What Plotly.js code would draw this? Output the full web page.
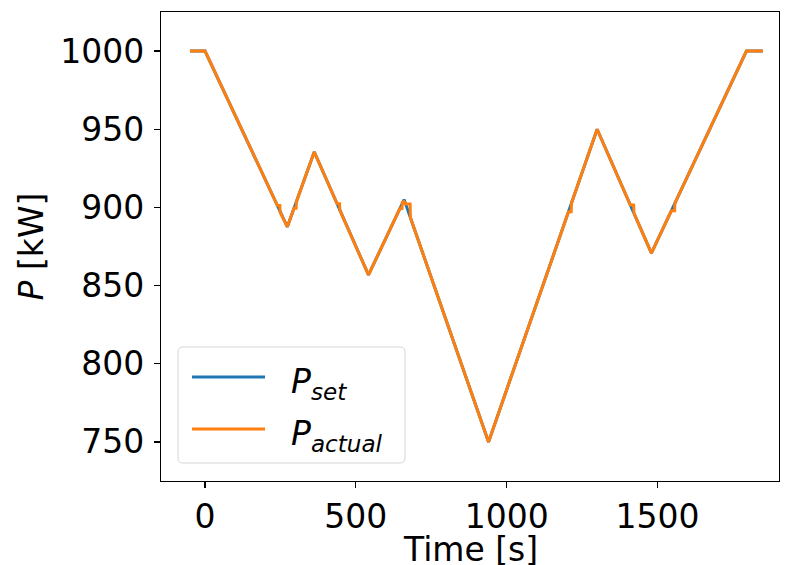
<!DOCTYPE html>
<html>
<head>
<meta charset="utf-8">
<script src="https://cdn.plot.ly/plotly-3.0.1.min.js"></script>
<style>
  html, body { margin: 0; padding: 0; background: #fff; }
  #plot { width: 785px; height: 565px; }
</style>
</head>
<body>
<div id="plot"></div>
<script>
// Power set-point ramp profile (time in s, power in kW)
const setTime  = [-50, 0, 273, 362, 542, 660, 940, 1300, 1480, 1795, 1850];
const setPower = [1000, 1000, 887.6, 935.5, 856.8, 905, 750, 950, 870.7, 1000, 1000];

// Measured power: follows the set-point, with short hold-and-jump lags around 900 kW
const actualTime  = [-50, 0, 240, 248, 249, 273, 295, 302, 303, 362, 438, 446, 447, 542,
                     646, 653, 654, 659, 665, 680, 681, 940, 1205, 1214, 1215, 1300,
                     1410, 1421, 1422, 1480, 1546, 1557, 1558, 1795, 1850];
const actualPower = [1000, 1000, 901.2, 901.2, 896.9, 887.6, 899.4, 899.4, 903.7, 935.5, 902.3, 902.3, 898.1, 856.8,
                     899.3, 899.3, 903.2, 903.8, 902.2, 902.2, 893.4, 750, 897.2, 897.2, 902.8, 950,
                     901.5, 901.5, 896.3, 870.7, 897.8, 897.8, 902.7, 1000, 1000];

const xTicks = [0, 500, 1000, 1500];
const yTicks = [750, 800, 850, 900, 950, 1000];

const xTitle = 'Time [s]';
const yTitle = '<i>P</i> [kW]';
const seriesNames  = ['<i>P</i><sub><i>set</i></sub>', '<i>P</i><sub><i>actual</i></sub>'];
const seriesColors = ['#1f77b4', '#ff7f0e'];

const FONT = 'DejaVu Sans';
const W = 785, H = 565;
const M = { l: 161, r: 6, t: 12, b: 84 };
const plotW = W - M.l - M.r, plotH = H - M.t - M.b;

// pixel position inside the figure -> paper coordinates
const px = v => (v - M.l) / plotW;
const py = v => (H - M.b - v) / plotH;

const traces = [
  { x: setTime, y: setPower, type: 'scatter', mode: 'lines',
    name: seriesNames[0], line: { color: seriesColors[0], width: 3 } },
  { x: actualTime, y: actualPower, type: 'scatter', mode: 'lines',
    name: seriesNames[1], line: { color: seriesColors[1], width: 3 } }
];

// Legend box drawn as a rounded frame with line samples and labels
const box = { x0: 178, x1: 405, y0: 347, y1: 463, r: 5 };
function roundedRectPath(b) {
  const X0 = px(b.x0), X1 = px(b.x1), Y0 = py(b.y1), Y1 = py(b.y0);
  const rx = b.r / plotW, ry = b.r / plotH;
  return `M ${X0 + rx},${Y0} L ${X1 - rx},${Y0} Q ${X1},${Y0} ${X1},${Y0 + ry} ` +
         `L ${X1},${Y1 - ry} Q ${X1},${Y1} ${X1 - rx},${Y1} L ${X0 + rx},${Y1} ` +
         `Q ${X0},${Y1} ${X0},${Y1 - ry} L ${X0},${Y0 + ry} Q ${X0},${Y0} ${X0 + rx},${Y0} Z`;
}
const legendRowsY = [377, 429];

const shapes = [{
  type: 'path', xref: 'paper', yref: 'paper', path: roundedRectPath(box),
  fillcolor: 'rgba(255,255,255,0.8)', line: { color: '#d6d6d6', width: 1 }, layer: 'above'
}];
const annotations = [];
seriesNames.forEach((name, i) => {
  shapes.push({
    type: 'line', xref: 'paper', yref: 'paper', layer: 'above',
    x0: px(192), x1: px(265), y0: py(legendRowsY[i]), y1: py(legendRowsY[i]),
    line: { color: seriesColors[i], width: 3 }
  });
  annotations.push({
    xref: 'paper', yref: 'paper', x: px(289), y: py(legendRowsY[i] + 6),
    xanchor: 'left', yanchor: 'middle', showarrow: false, text: name,
    font: { family: FONT, size: 33, color: '#000' }
  });
});

// x-axis label, centred under the plot area
annotations.push({
  xref: 'paper', yref: 'paper', x: 0.5, y: py(549),
  xanchor: 'center', yanchor: 'middle', showarrow: false, text: xTitle,
  font: { family: FONT, size: 33, color: '#000' }
});

const layout = {
  width: W, height: H,
  paper_bgcolor: '#fff', plot_bgcolor: '#fff',
  margin: { l: M.l, r: M.r, t: M.t, b: M.b, pad: 0, autoexpand: false },
  font: { family: FONT, size: 33, color: '#000' },
  showlegend: false,
  shapes: shapes,
  annotations: annotations,
  xaxis: {
    range: [-146, 1903], tickvals: xTicks, ticktext: xTicks.map(String),
    showgrid: false, zeroline: false,
    showline: true, mirror: true, linecolor: '#000', linewidth: 1.2,
    ticks: 'outside', ticklen: 6, tickwidth: 1.2, tickcolor: '#000',
    tickfont: { family: FONT, size: 33, color: '#000' },
    automargin: false
  },
  yaxis: {
    range: [725, 1025], tickvals: yTicks, ticktext: yTicks.map(String),
    showgrid: false, zeroline: false,
    showline: true, mirror: true, linecolor: '#000', linewidth: 1.2,
    ticks: 'outside', ticklen: 6, tickwidth: 1.2, tickcolor: '#000',
    ticklabelstandoff: 3,
    tickfont: { family: FONT, size: 33, color: '#000' },
    title: { text: yTitle, font: { family: FONT, size: 33, color: '#000' }, standoff: 6 },
    automargin: false
  }
};

Plotly.newPlot('plot', traces, layout, { displayModeBar: false, staticPlot: true });
</script>
</body>
</html>
